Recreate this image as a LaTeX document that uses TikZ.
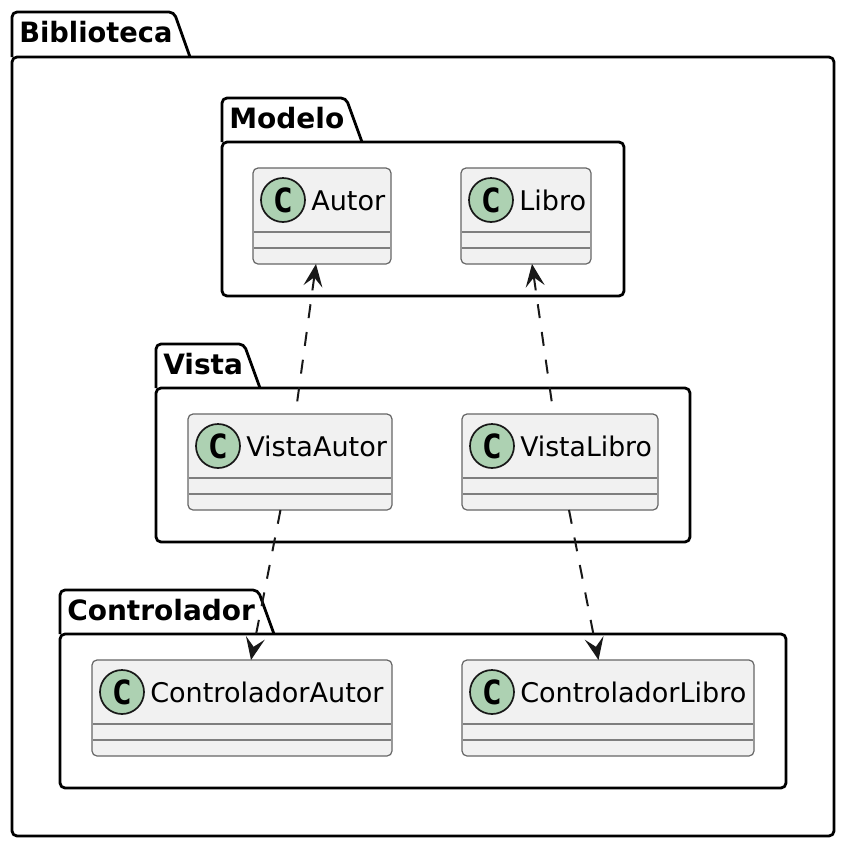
\documentclass[tikz,border=0pt]{standalone}
\usepackage{fontspec}
\usepackage{graphicx}
\setmainfont{DejaVu Sans}
\newfontfamily\monofam{DejaVu Sans Mono}
\usetikzlibrary{arrows.meta}
\definecolor{ink}{HTML}{181818}
\definecolor{rulegray}{HTML}{7E7E7E}
\definecolor{edgegray}{HTML}{666666}
\definecolor{boxfill}{HTML}{F1F1F1}
\definecolor{iconfill}{HTML}{ADD1B2}
\newcommand{\pxu}{0.75pt}
\tikzset{
  pkgline/.style={draw=black,line width=2.8*\pxu,line join=round,rounded corners=5*\pxu},
  pkgtitle/.style={anchor=base west,inner sep=0pt,font=\fontsize{21pt}{24pt}\selectfont\bfseries,text=black},
  classbox/.style={anchor=north west,draw=edgegray,fill=boxfill,line width=1.2*\pxu,rounded corners=5*\pxu,inner sep=0pt,outer sep=0pt,minimum height=96*\pxu},
  classrule/.style={draw=rulegray,line width=1.5*\pxu},
  classicon/.style={circle,draw=ink,fill=iconfill,line width=1.7*\pxu,minimum size=44*\pxu,inner sep=0pt,font=\fontsize{25pt}{25pt}\selectfont\monofam\bfseries,text=black},
  classname/.style={anchor=base west,inner sep=0pt,font=\fontsize{20.3pt}{24pt}\selectfont,text=black},
  dep/.style={draw=ink,line width=2*\pxu,dash pattern=on 14*\pxu off 14*\pxu,
    arrows={-Stealth[length=22.5*\pxu,width=19*\pxu,inset=9*\pxu]}},
  revdep/.style={draw=ink,line width=2*\pxu,dash pattern=on 14*\pxu off 14*\pxu,
    arrows={Stealth[length=22.5*\pxu,width=19*\pxu,inset=9*\pxu]-}}
}
% name, x1, y1, tab top x, tab bottom x, bar y, x2, y2, label
\newcommand{\pkg}[9]{%
  \draw[pkgline] (#2,#6) -- (#2,#3) -- (#4,#3) -- (#5,#6);
  \draw[pkgline] (#2,#6) rectangle (#7,#8);
  \node[pkgtitle] (#1) at (#2+7,#3+30) {#9};
}
% name, x, y, width, label
\newcommand{\cls}[5]{%
  \node[classbox,minimum width=#4*\pxu] (#1) at (#2,#3) {};
  \draw[classrule] (#2+1,#3+64) -- (#2+#4-1,#3+64);
  \draw[classrule] (#2+1,#3+80) -- (#2+#4-1,#3+80);
  \node[classicon] (#1icon) at (#2+30,#3+32) {C};
  \node[classname] (#1name) at (#2+58,#3+42) {#5};
}
\begin{document}
\begin{tikzpicture}[x=\pxu,y=-\pxu]
\useasboundingbox (0,0) rectangle (848,850);
\pkg{pBiblioteca}{12}{12}{174}{190}{57}{834}{836}{\scalebox{0.974}[1]{Biblioteca}}
\pkg{pModelo}{222}{98}{346}{362}{142}{624}{296}{Modelo}
\pkg{pVista}{156}{344}{244}{260}{388}{690}{542}{Vista}
\pkg{pControlador}{60}{590}{258}{274}{634}{786}{788}{Controlador}
\cls{autor}{253}{168}{138}{Autor}
\cls{libro}{461}{168}{130}{Libro}
\cls{vautor}{188}{414}{204}{VistaAutor}
\cls{vlibro}{462}{414}{196}{\scalebox{0.985}[1]{VistaLibro}}
\cls{cautor}{92}{660}{300}{ControladorAutor}
\cls{clibro}{462}{660}{292}{ControladorLibro}
\draw[revdep] ([xshift=-6*\pxu]autor.south) -- ([xshift=5.5*\pxu]vautor.north);
\draw[revdep] ([xshift=6*\pxu]libro.south) -- ([xshift=-6.5*\pxu]vlibro.north);
\draw[dep] ([xshift=-9.5*\pxu]vautor.south) -- ([xshift=9*\pxu]cautor.north);
\draw[dep] ([xshift=9*\pxu]vlibro.south) -- ([xshift=-9.5*\pxu]clibro.north);
\end{tikzpicture}
\end{document}
